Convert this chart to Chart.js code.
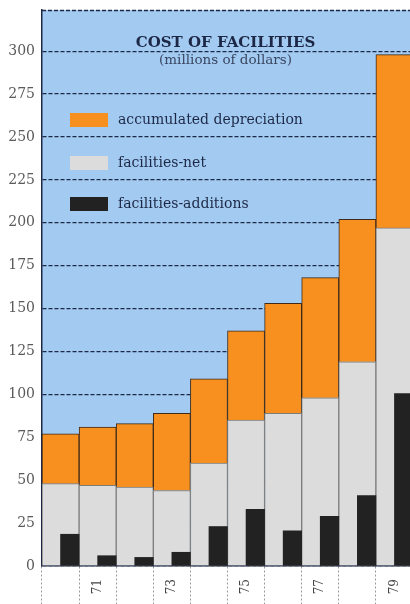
<!DOCTYPE html>
<html>
<head>
  <title>Cost of Facilities</title>
  <script src="https://cdn.jsdelivr.net/npm/chart.js"></script>
  <style>
    body { margin: 0; background: #fff; overflow: hidden; }
  </style>
</head>
<body>
  <canvas id="costChart" width="413" height="604"></canvas>

  <script>
    // Fiscal years 1970-1979; only the odd years carry a label
    const years = ['1970', '1971', '1972', '1973', '1974', '1975', '1976', '1977', '1978', '1979'];
    const tickLabels = ['', '71', '', '73', '', '75', '', '77', '', '79'];

    // Millions of dollars
    const totalCost = [77, 81, 83, 89, 109, 137, 153, 168, 202, 298];
    const facilitiesNet = [48, 47, 46, 44, 60, 85, 89, 98, 119, 197];
    const facilitiesAdditions = [18.5, 6, 5, 8, 23, 33, 20.5, 29, 41, 100.5];

    // depreciation sits on top of the net value, up to the total cost
    const accumulatedDepreciation = totalCost.map((t, i) => t - facilitiesNet[i]);

    const BLUE = '#a3cbf2';
    const ORANGE = '#f8901f';
    const GREY = '#dcdcdc';
    const BLACK = '#222222';
    const INK = '#1d2846';

    // Blue plot background and the dashed frame along the top
    const framePlugin = {
      id: 'frame',
      beforeDraw(chart) {
        const { ctx, chartArea: a } = chart;
        ctx.save();
        ctx.fillStyle = BLUE;
        ctx.fillRect(a.left, a.top, a.right - a.left, a.bottom - a.top);
        ctx.strokeStyle = INK;
        ctx.lineWidth = 1.5;
        ctx.setLineDash([4, 2]);
        ctx.beginPath();
        ctx.moveTo(a.left, a.top + 0.5);
        ctx.lineTo(a.right, a.top + 0.5);
        ctx.stroke();
        ctx.restore();
      }
    };

    // Title, subtitle and the legend drawn inside the plot
    const captionPlugin = {
      id: 'caption',
      afterDraw(chart) {
        const { ctx, chartArea: a } = chart;
        const cx = (a.left + a.right) / 2 - 2;
        ctx.save();
        ctx.fillStyle = INK;
        ctx.textAlign = 'center';
        ctx.textBaseline = 'alphabetic';
        ctx.font = 'bold 15px "DejaVu Serif"';
        ctx.fillText('COST OF FACILITIES', cx, 47);
        ctx.fillStyle = '#3a4660';
        ctx.font = '13.5px "DejaVu Serif"';
        ctx.fillText('(millions of dollars)', cx, 64);

        const items = [
          { text: 'accumulated depreciation', color: ORANGE, y: 120 },
          { text: 'facilities-net', color: GREY, y: 163 },
          { text: 'facilities-additions', color: BLACK, y: 204 }
        ];
        ctx.textAlign = 'left';
        ctx.textBaseline = 'middle';
        ctx.font = '14px "DejaVu Serif"';
        items.forEach(item => {
          ctx.fillStyle = item.color;
          ctx.fillRect(70, item.y - 7, 38, 14);
          ctx.fillStyle = INK;
          ctx.fillText(item.text, 118, item.y);
        });
        ctx.restore();
      }
    };

    const ctx = document.getElementById('costChart').getContext('2d');

    new Chart(ctx, {
      type: 'bar',
      data: {
        labels: tickLabels,
        datasets: [
          {
            // empty left half of each year, so additions sit on the right
            label: 'spacer',
            data: years.map(() => null),
            stack: 'spacer',
            backgroundColor: 'rgba(0,0,0,0)',
            order: 0
          },
          {
            label: 'facilities-additions',
            data: facilitiesAdditions,
            stack: 'additions',
            backgroundColor: BLACK,
            borderWidth: 0,
            order: 1
          },
          {
            label: 'facilities-net',
            data: facilitiesNet,
            stack: 'cost',
            grouped: false,
            backgroundColor: GREY,
            borderColor: '#7c7c7c',
            borderWidth: 1,
            order: 2
          },
          {
            label: 'accumulated depreciation',
            data: accumulatedDepreciation,
            stack: 'cost',
            grouped: false,
            backgroundColor: ORANGE,
            borderColor: '#3d2a1a',
            borderWidth: 1,
            order: 3
          }
        ]
      },
      options: {
        responsive: false,
        animation: false,
        devicePixelRatio: 1,
        barPercentage: 1,
        categoryPercentage: 1,
        layout: { padding: { top: 10, right: 0, left: 0, bottom: 0 } },
        plugins: {
          legend: { display: false },
          tooltip: { enabled: false }
        },
        scales: {
          x: {
            stacked: true,
            offset: true,
            grid: {
              offset: true,
              drawOnChartArea: false,
              tickLength: 38,
              tickColor: '#9a9a9a',
              tickBorderDash: [2, 2]
            },
            border: { display: true, color: INK, width: 1.5 },
            ticks: {
              autoSkip: false,
              minRotation: 90,
              maxRotation: 90,
              padding: -25,
              color: '#444',
              font: { family: '"DejaVu Serif"', size: 12 }
            },
            afterFit(scale) {
              scale.height = 38;
              scale.paddingLeft = 0;
              scale.paddingRight = 0;
            }
          },
          y: {
            stacked: true,
            min: 0,
            max: 324,
            grid: {
              color: INK,
              lineWidth: 1.2,
              drawTicks: false
            },
            border: { display: true, color: INK, width: 1.5, dash: [4, 2] },
            ticks: {
              stepSize: 25,
              includeBounds: false,
              padding: 7,
              color: '#5a5a5a',
              font: { family: '"DejaVu Serif"', size: 14 }
            },
            afterFit(scale) {
              scale.width = 42;
              scale.paddingTop = 0;
              scale.paddingBottom = 0;
            }
          }
        }
      },
      plugins: [framePlugin, captionPlugin]
    });
  </script>
</body>
</html>
